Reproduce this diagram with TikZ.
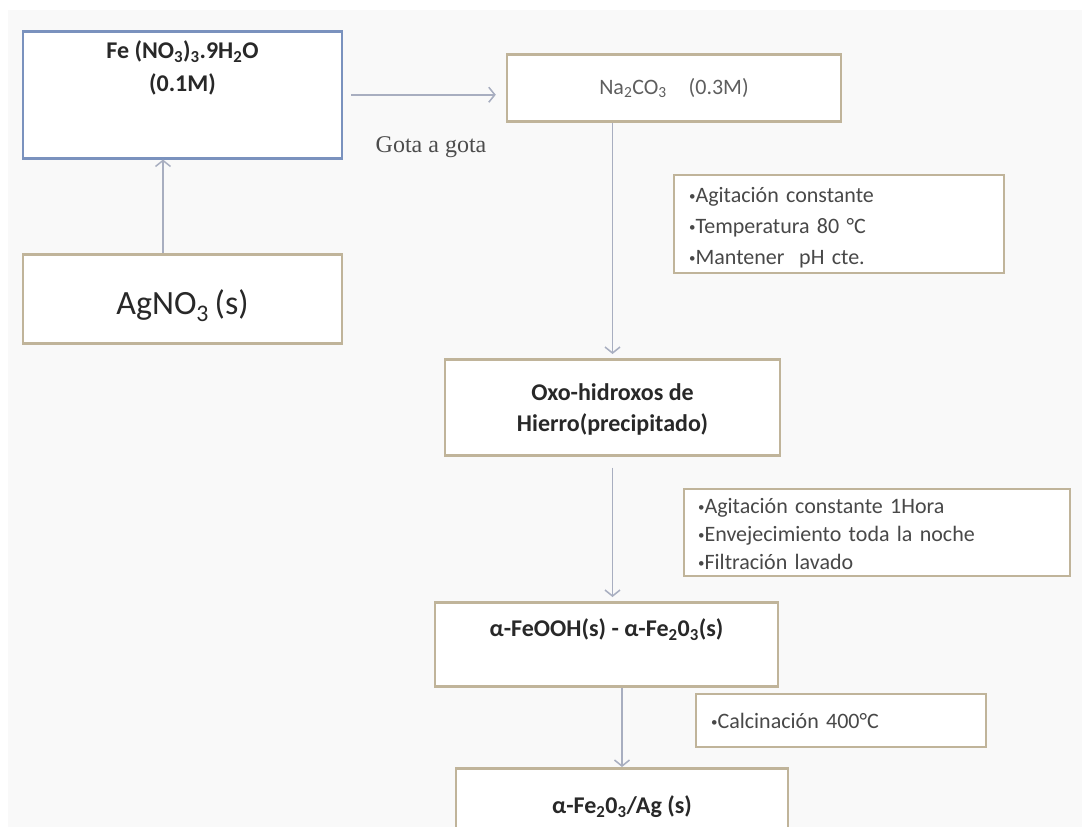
\documentclass[tikz,border=0pt]{standalone}
\usepackage{fontspec}
\setmainfont{Carlito}
\newfontfamily\gotafont{Liberation Serif}
\usepackage{tikz}
\usetikzlibrary{arrows,arrows.meta,positioning}
\usepackage{xcolor}
\definecolor{boxtan}{RGB}{192,180,154}
\definecolor{boxblue}{RGB}{122,146,190}
\definecolor{linegray}{RGB}{168,174,192}
\definecolor{pagegray}{RGB}{249,249,249}
\definecolor{inkgray}{RGB}{40,40,40}
\newcommand{\bul}{\raisebox{0.12ex}{\fontsize{13}{13}\selectfont•}}
\tikzstyle{arrow} = [line width=1.5pt,->,>={Straight Barb[length=6pt,width=15pt]},color=linegray]
\tikzstyle{procbox} = [rectangle, anchor=north, draw=boxtan, fill=white, line width=2.5pt, inner sep=0pt, align=center, text=inkgray, font=\fontsize{24}{31}\selectfont\bfseries]
\tikzstyle{notebox} = [rectangle, anchor=north west, draw=boxtan, fill=white, line width=2.2pt, inner xsep=15pt, inner ysep=0pt, align=left, text=inkgray!85, font=\fontsize{22}{31}\selectfont]

\begin{document}
\begin{tikzpicture}[x=1pt,y=-1pt]
\useasboundingbox (0,0) rectangle (1082,827);
\clip (0,0) rectangle (1082,827);
\fill[pagegray] (8,10) rectangle (1082,827);

% left column
\node[procbox, draw=boxblue, minimum width=319pt, text height=60.5pt, text depth=66.5pt, font=\fontsize{24}{33}\selectfont\bfseries] (fe) at (182.5,30) {Fe (NO\textsubscript{3})\textsubscript{3}.9H\textsubscript{2}O\\(0.1M)};
\node[procbox, minimum width=319pt, text height=60.5pt, text depth=28.5pt, font=\fontsize{34}{40}\selectfont] (agno) at (182.5,253) {AgNO\textsubscript{3}\,(s)};

% main column
\node[procbox, minimum width=334pt, text height=40pt, text depth=27pt, text=inkgray!75, font=\fontsize{22}{31}\selectfont] (na) at (674,53) {Na\textsubscript{2}CO\textsubscript{3}\quad(0.3M)};
\node[procbox, minimum width=335pt, text height=72.5pt, text depth=23.5pt] (oxo) at (612.5,358) {Oxo-hidroxos de\\Hierro(precipitado)};
\node[procbox, minimum width=343pt, text height=34.5pt, text depth=49.5pt] (feooh) at (606.5,601) {α-FeOOH(s) - α-Fe\textsubscript{2}0\textsubscript{3}(s)};
\node[procbox, minimum width=332pt, text height=45.5pt, text depth=40pt] (final) at (622,767) {α-Fe\textsubscript{2}0\textsubscript{3}/Ag (s)};

% conditions
\node[notebox, text width=300pt, text height=27pt, text depth=71pt] (cond1) at (673,174) {\bul Agitación constante\\\bul Temperatura 80 °C\\\bul Mantener\ \ pH cte.};
\node[notebox, inner xsep=14pt, text width=358pt, text height=24pt, text depth=63pt, font=\fontsize{22}{28}\selectfont] (cond2) at (683,488) {\bul Agitación constante 1Hora\\\bul Envejecimiento toda la noche\\\bul Filtración lavado};
\node[notebox, text width=260pt, text height=34pt, text depth=19pt] (cond3) at (695,693) {\bul Calcinación 400°C};

\node[font=\gotafont\fontsize{24}{28}\selectfont, text=black!70] (gota) at (431,147) {Gota a gota};

% flow
\draw[arrow, shorten <=8pt, shorten >=10pt] (fe.east) -- (fe.east -| na.west);
\draw[arrow] ([xshift=-19.5pt]agno.north) -- ([xshift=-19.5pt]fe.south);
\draw[arrow, shorten >=4pt] (oxo.north |- na.south) -- (oxo.north);
\draw[arrow, shorten <=11pt, shorten >=4pt] (oxo.south) -- (oxo.south |- feooh.north);
\draw[arrow] (final.north |- feooh.south) -- (final.north);
\end{tikzpicture}
\end{document}
